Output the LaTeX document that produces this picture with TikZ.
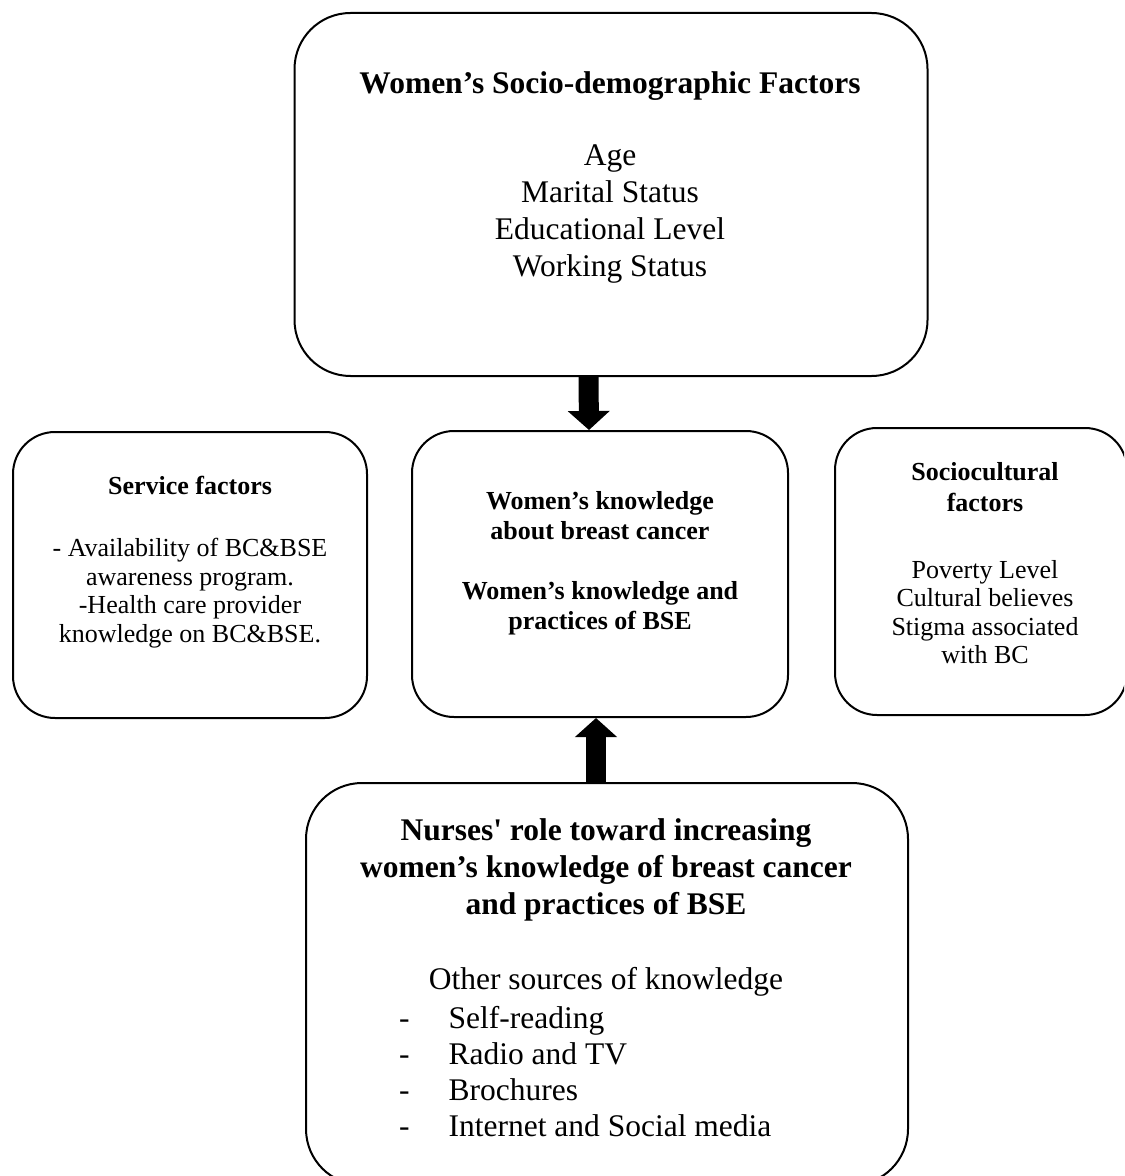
\documentclass[tikz,border=0pt]{standalone}
\usepackage{fontspec}
\setmainfont{Liberation Serif}
\usetikzlibrary{arrows.meta}

\begin{document}
\begin{tikzpicture}[x=0.5pt,y=-0.5pt]
	%Rahmen
	\useasboundingbox (0,0) rectangle (1124,1176);
	\clip (0,0) rectangle (1124,1176);
	
	\tikzset{box/.style = {draw, line width=1pt, rounded corners=#1, inner sep=0pt}, box/.default=21pt};
	\tikzset{bigarrow/.style = {line width=10pt, -{Triangle[width=20.5pt, length=9.5pt]}}};
	\tikzset{bigtxt/.style = {align=center, font=\fontsize{15.75pt}{18.5pt}\selectfont}};
	\tikzset{bigbold/.style = {align=center, font=\fontsize{15.75pt}{18.5pt}\selectfont\bfseries}};
	\tikzset{smalltxt/.style = {align=center, font=\fontsize{13pt}{14.25pt}\selectfont}};
	\tikzset{smallbold/.style = {align=center, font=\fontsize{13pt}{15pt}\selectfont\bfseries}};
	
	%Kaesten
	\node[box=28pt, minimum width=316.5pt, minimum height=181.5pt] (top) at (611,194.5) {};
	\node[box, minimum width=177pt, minimum height=143pt] (left) at (190,575) {};
	\node[box, minimum width=188pt, minimum height=143pt] (mid) at (600,574) {};
	\node[box, minimum width=146pt, minimum height=143.5pt] (right) at (981,571.5) {};
	\node[box=28pt, minimum width=301pt, minimum height=201pt] (bot) at (607,984) {};
	
	%Text oben
	\node[bigbold] (toptitle) at (610,86) {Women’s Socio-demographic Factors};
	\node[bigtxt] (toplist) at (610,214) {Age\\Marital Status\\Educational Level\\Working Status};
	
	%Text links
	\node[smallbold] (lefttitle) at (190,485) {Service factors};
	\node[smalltxt] (leftlist) at (190,593) {- Availability of BC\&BSE\\awareness program.\\-Health care provider\\knowledge on BC\&BSE.};
	
	%Text mitte
	\node[smallbold] (midtop) at (600,516) {Women’s knowledge\\about breast cancer};
	\node[smallbold] (midbot) at (600,608) {Women’s knowledge and\\practices of BSE};
	
	%Text rechts
	\node[smallbold, font=\fontsize{13pt}{15.5pt}\selectfont\bfseries] (righttitle) at (985,487) {Sociocultural\\factors};
	\node[smalltxt] (rightlist) at (985,612) {Poverty Level\\Cultural believes\\Stigma associated\\with BC};
	
	%Text unten
	\node[bigbold] (bottitle) at (606,870) {Nurses\textquotesingle{} role toward increasing\\women’s knowledge of breast cancer\\and practices of BSE};
	\node[bigtxt] (botsub) at (606,982) {Other sources of knowledge};
	\node[bigtxt, align=left, anchor=west, font=\fontsize{15.75pt}{18pt}\selectfont] (botlist) at (392,1072) {-\hspace{19.5pt}Self-reading\\-\hspace{19.5pt}Radio and TV\\-\hspace{19.5pt}Brochures\\-\hspace{19.5pt}Internet and Social media};
	
	%Pfeile
	\draw[bigarrow] ([xshift=-11.25pt]top.south) -- ([xshift=-5.5pt]mid.north);
	\draw[bigarrow] ([xshift=-5.5pt]bot.north) -- ([xshift=-2pt]mid.south);
\end{tikzpicture}
\end{document}
